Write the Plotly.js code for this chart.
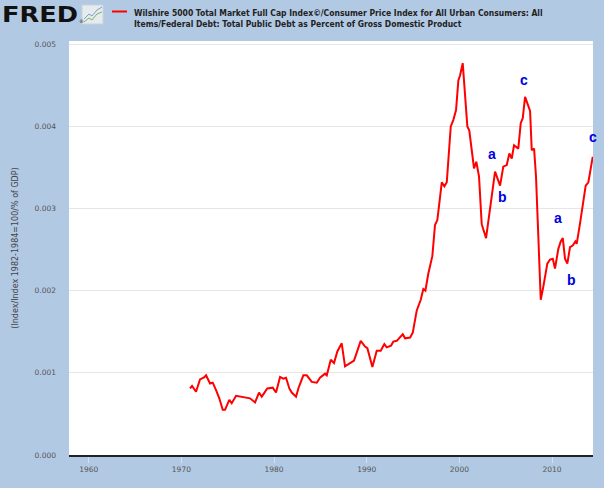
<!DOCTYPE html>
<html>
<head>
    <meta charset='utf-8'>
    <title>Wilshire 5000 / CPI / Federal Debt</title>
    <script src="https://cdn.plot.ly/plotly-3.0.1.min.js"></script>
    <style>
        body { margin: 0; background: #b2c9e4; }
    </style>
</head>
<body>
    <div id="chartDiv" style="width:604px;height:488px"></div>

    <script>
        // decimal years
        const years = [
            1970.93, 1971.15, 1971.58, 1972.01, 1972.44, 1972.66, 1973.09, 1973.38, 1973.74, 1974.09,
            1974.46, 1974.71, 1975.17, 1975.43, 1975.90, 1976.51, 1977.05, 1977.41, 1977.95, 1978.38,
            1978.67, 1979.27, 1979.86, 1980.21, 1980.65, 1981.00, 1981.29, 1981.65, 1981.91, 1982.37,
            1982.62, 1983.16, 1983.53, 1984.07, 1984.61, 1984.96, 1985.50, 1985.69, 1986.12, 1986.47,
            1986.83, 1987.30, 1987.66, 1988.20, 1988.63, 1989.35, 1989.82, 1990.07, 1990.61, 1991.08,
            1991.51, 1991.90, 1992.16, 1992.62, 1992.87, 1993.24, 1993.89, 1994.14, 1994.68, 1994.97,
            1995.40, 1995.83, 1996.11, 1996.33, 1996.65, 1997.08, 1997.37, 1997.62, 1997.91, 1998.10,
            1998.38, 1998.64, 1999.07, 1999.35, 1999.64, 1999.89, 2000.07, 2000.36, 2000.86, 2001.07,
            2001.58, 2001.83, 2002.12, 2002.41, 2002.88, 2003.38, 2003.85, 2004.39, 2004.74, 2005.11,
            2005.39, 2005.65, 2005.90, 2006.36, 2006.62, 2006.84, 2007.09, 2007.63, 2007.81, 2008.06,
            2008.27, 2008.52, 2008.78, 2009.06, 2009.49, 2009.78, 2010.08, 2010.32, 2010.68, 2010.94,
            2011.16, 2011.40, 2011.65, 2011.94, 2012.23, 2012.52, 2012.66, 2013.02, 2013.38, 2013.63,
            2013.92, 2014.18, 2014.39
        ];
        const ratio = [
            0.00081, 0.00084, 0.00077, 0.00092, 0.000945, 0.00097, 0.00087, 0.00088, 0.00079, 0.00069,
            0.00055, 0.00055, 0.00067, 0.00063, 0.00072, 0.00071, 0.00070, 0.00069, 0.00064, 0.00076,
            0.00071, 0.00081, 0.00082, 0.00076, 0.00095, 0.00093, 0.00094, 0.00081, 0.00076, 0.00071,
            0.00081, 0.00097, 0.00097, 0.00089, 0.00088, 0.00094, 0.00099, 0.00097, 0.00116, 0.00112,
            0.00126, 0.00136, 0.00108, 0.00112, 0.00115, 0.00139, 0.00132, 0.00130, 0.00107, 0.00127,
            0.00127, 0.00135, 0.00131, 0.00133, 0.00138, 0.00139, 0.00147, 0.00142, 0.00143, 0.00149,
            0.00176, 0.00189, 0.00202, 0.00200, 0.00221, 0.00242, 0.00280, 0.00286, 0.00310, 0.00332,
            0.00327, 0.00332, 0.00400, 0.00408, 0.00420, 0.00456, 0.00462, 0.00477, 0.00400, 0.00395,
            0.00349, 0.00357, 0.00339, 0.00281, 0.00264, 0.00306, 0.00345, 0.00328, 0.00351, 0.00353,
            0.00367, 0.00361, 0.00377, 0.00373, 0.00404, 0.00410, 0.00436, 0.00419, 0.00371, 0.00373,
            0.00339, 0.00266, 0.00189, 0.00205, 0.00233, 0.00238, 0.00239, 0.00227, 0.00251, 0.00260,
            0.00264, 0.00239, 0.00233, 0.00253, 0.00255, 0.00260, 0.00257, 0.00282, 0.00308, 0.00328,
            0.00332, 0.00351, 0.00363
        ];

        // wave labels drawn on the chart
        const waveLabels = ["a", "b", "c", "a", "b", "c"];
        const waveX = [2003.49, 2004.64, 2006.98, 2010.68, 2012.05, 2014.39];
        const waveY = [0.003662, 0.003142, 0.004571, 0.002887, 0.002129, 0.003872];

        const tickYears = [1960, 1970, 1980, 1990, 2000, 2010];
        const seriesName = "Wilshire 5000 Total Market Full Cap Index©/Consumer Price Index for All Urban Consumers: All<br>Items/Federal Debt: Total Public Debt as Percent of Gross Domestic Product";
        const yTitle = "(Index/Index 1982-1984=100/% of GDP)";

        // plot box in pixels, used to place header items in paper coords
        const plotL = 69, plotR = 593, plotT = 41, plotB = 455;
        const px = x => (x - plotL) / (plotR - plotL);
        const py = y => (plotB - y) / (plotB - plotT);

        const line = {
            x: years,
            y: ratio,
            type: 'scatter',
            mode: 'lines',
            line: { color: '#ff0000', width: 2 },
            name: seriesName,
            hoverinfo: 'x+y'
        };

        const annotations = waveLabels.map((t, i) => ({
            x: waveX[i], y: waveY[i], text: t, showarrow: false,
            font: { family: 'Liberation Sans, Arial, sans-serif', size: 14, color: '#0000dd', weight: 'bold' }
        }));

        annotations.push({
            xref: 'paper', yref: 'paper', x: px(132), y: py(5.5), xanchor: 'left', yanchor: 'top',
            align: 'left', showarrow: false, text: seriesName,
            font: { family: 'DejaVu Sans Condensed, DejaVu Sans, sans-serif', size: 8.5, color: '#222', weight: 'bold' }
        });
        annotations.push({
            xref: 'paper', yref: 'paper', x: px(1), y: py(1), xanchor: 'left', yanchor: 'top',
            showarrow: false, text: "FRED",
            font: { family: 'DejaVu Sans, sans-serif', size: 21, color: '#111', weight: 'bold' }
        });
        annotations.push({
            xref: 'paper', yref: 'paper', x: px(77), y: py(21), xanchor: 'left', yanchor: 'middle',
            showarrow: false, text: "®",
            font: { family: 'DejaVu Sans, sans-serif', size: 5, color: '#333' }
        });

        const shapes = [
            // legend sample
            { type: 'line', xref: 'paper', yref: 'paper', x0: px(112), x1: px(127), y0: py(11.5), y1: py(11.5),
              line: { color: '#ff0000', width: 2 } },
            // little chart icon beside the logo
            { type: 'rect', xref: 'paper', yref: 'paper', x0: px(82), x1: px(103), y0: py(24), y1: py(5),
              fillcolor: '#e6ebee', line: { color: '#c9d3da', width: 1 } },
            { type: 'path', xref: 'paper', yref: 'paper',
              path: `M ${px(84)} ${py(19)} L ${px(89)} ${py(14)} L ${px(92)} ${py(16)} L ${px(97)} ${py(10)} L ${px(102)} ${py(7)}`,
              line: { color: '#7c9ed0', width: 1 } },
            { type: 'path', xref: 'paper', yref: 'paper',
              path: `M ${px(84)} ${py(22)} L ${px(89)} ${py(18)} L ${px(92)} ${py(20)} L ${px(97)} ${py(14)} L ${px(102)} ${py(12)}`,
              line: { color: '#7fb069', width: 1 } }
        ];

        const layout = {
            width: 604,
            height: 488,
            margin: { l: plotL, r: 604 - plotR, t: plotT, b: 488 - plotB, pad: 0 },
            paper_bgcolor: '#b2c9e4',
            plot_bgcolor: '#ffffff',
            showlegend: false,
            font: { family: 'DejaVu Sans, sans-serif', size: 7.5, color: '#555' },
            xaxis: {
                range: [1957.87, 2014.42],
                tickvals: tickYears,
                ticktext: tickYears.map(String),
                showgrid: false,
                zeroline: false,
                showline: true,
                linecolor: '#222',
                linewidth: 2,
                ticks: 'outside',
                ticklen: 6,
                tickcolor: 'rgba(255,255,255,0.45)',
                tickfont: { size: 7.5, color: '#555' }
            },
            yaxis: {
                range: [0, 0.00504],
                dtick: 0.001,
                tick0: 0,
                tickformat: '.3f',
                gridcolor: '#e6e6e6',
                gridwidth: 1,
                zeroline: false,
                showline: false,
                ticks: '',
                ticklabelstandoff: 12,
                tickfont: { size: 7.5, color: '#555' },
                title: { text: yTitle, standoff: 14, font: { size: 8, color: '#444' } }
            },
            annotations: annotations,
            shapes: shapes
        };

        Plotly.newPlot('chartDiv', [line], layout, { displayModeBar: false, staticPlot: true }).then(() => {
            // the FRED wordmark is wider than any installed bold face; stretch it, keep left edge at 2px
            const root = document.getElementById('chartDiv').getBoundingClientRect();
            document.querySelectorAll('#chartDiv .annotation-text').forEach(el => {
                if (el.textContent === 'FRED') {
                    el.setAttribute('textLength', '76');
                    el.setAttribute('lengthAdjust', 'spacingAndGlyphs');
                    const r = el.getBoundingClientRect();
                    const dx = (root.left + 2) - r.left;
                    el.setAttribute('x', parseFloat(el.getAttribute('x') || 0) + dx);
                }
            });
        });
    </script>
</body>
</html>
